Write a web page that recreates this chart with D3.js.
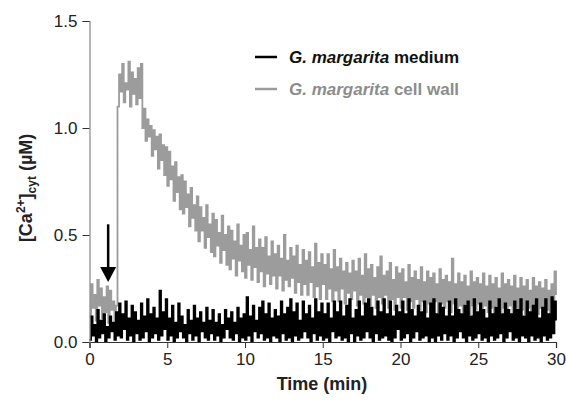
<!DOCTYPE html>
<html>
<head>
<meta charset="utf-8">
<script src="https://cdn.jsdelivr.net/npm/d3@7"></script>
<style>
body { margin: 0; background: #fff; }
svg { font-family: "Liberation Sans", Arial, sans-serif; }
</style>
</head>
<body>
<svg></svg>
<script>
const width = 566;
const height = 406;

// time step of both traces, in minutes
const timeStep = 0.1;

// cell wall trace, one row per minute
const cellWall = [
	0.12,0.27,0.16,0.22,0.10,0.29,0.17,0.25,0.11,0.21,
	0.14,0.26,0.09,0.24,0.15,0.19,0.08,0.17,1.10,1.25,
	1.17,1.30,1.12,1.21,1.18,1.31,1.10,1.26,1.16,1.23,
	1.11,1.28,1.14,1.30,1.00,1.09,0.94,1.04,0.96,1.01,
	0.87,0.99,0.90,0.96,0.81,0.97,0.85,0.92,0.78,0.91,
	0.73,0.89,0.76,0.82,0.66,0.84,0.70,0.77,0.62,0.78,
	0.60,0.75,0.63,0.69,0.54,0.72,0.58,0.64,0.52,0.68,
	0.47,0.63,0.52,0.58,0.44,0.64,0.49,0.55,0.42,0.60,
	0.40,0.57,0.45,0.51,0.37,0.59,0.43,0.50,0.36,0.54,
	0.34,0.52,0.39,0.47,0.31,0.55,0.38,0.45,0.33,0.50,
	0.30,0.51,0.36,0.43,0.29,0.54,0.35,0.44,0.28,0.48,
	0.33,0.44,0.26,0.49,0.32,0.40,0.27,0.47,0.31,0.41,
	0.25,0.45,0.31,0.39,0.24,0.50,0.29,0.38,0.26,0.44,
	0.30,0.40,0.23,0.45,0.28,0.36,0.22,0.43,0.27,0.38,
	0.22,0.42,0.28,0.35,0.21,0.46,0.26,0.37,0.20,0.41,
	0.27,0.36,0.20,0.41,0.25,0.34,0.19,0.43,0.24,0.35,
	0.19,0.39,0.25,0.33,0.18,0.37,0.23,0.32,0.20,0.38,
	0.24,0.33,0.17,0.39,0.22,0.31,0.18,0.41,0.21,0.34,
	0.17,0.36,0.22,0.30,0.16,0.35,0.21,0.40,0.18,0.31,
	0.22,0.33,0.16,0.37,0.20,0.29,0.15,0.35,0.21,0.32,
	0.16,0.34,0.21,0.28,0.15,0.36,0.19,0.30,0.16,0.33,
	0.20,0.29,0.15,0.35,0.19,0.28,0.14,0.33,0.18,0.30,
	0.15,0.32,0.19,0.27,0.14,0.34,0.18,0.29,0.16,0.31,
	0.19,0.28,0.14,0.39,0.18,0.27,0.15,0.32,0.17,0.28,
	0.14,0.31,0.18,0.26,0.13,0.33,0.17,0.28,0.15,0.30,
	0.18,0.27,0.13,0.32,0.17,0.26,0.14,0.31,0.16,0.27,
	0.13,0.30,0.17,0.25,0.14,0.32,0.16,0.27,0.13,0.29,
	0.17,0.26,0.13,0.31,0.16,0.25,0.14,0.30,0.15,0.26,
	0.13,0.29,0.16,0.24,0.12,0.30,0.15,0.26,0.13,0.28,
	0.16,0.25,0.12,0.29,0.15,0.24,0.13,0.27,0.14,0.33,
	0.22
];

// medium trace, one row per minute
const medium = [
	0.01,0.12,0.03,0.08,0.00,0.15,0.02,0.10,0.04,0.13,
	0.00,0.07,0.02,0.12,0.05,0.09,0.01,0.14,0.03,0.18,
	0.02,0.13,0.06,0.19,0.01,0.11,0.03,0.17,0.00,0.14,
	0.04,0.10,0.01,0.18,0.02,0.12,0.05,0.20,0.00,0.13,
	0.02,0.16,0.04,0.11,0.01,0.24,0.03,0.14,0.06,0.20,
	0.01,0.11,0.03,0.17,0.00,0.09,0.02,0.18,0.05,0.12,
	0.02,0.08,0.00,0.15,0.04,0.10,0.01,0.17,0.03,0.11,
	0.00,0.14,0.05,0.09,0.02,0.16,0.01,0.10,0.04,0.15,
	0.01,0.09,0.03,0.13,0.00,0.08,0.02,0.15,0.06,0.11,
	0.02,0.14,0.01,0.09,0.04,0.16,0.00,0.11,0.02,0.13,
	0.01,0.21,0.03,0.12,0.00,0.17,0.05,0.10,0.02,0.16,
	0.04,0.19,0.01,0.13,0.02,0.18,0.00,0.11,0.03,0.15,
	0.02,0.12,0.00,0.19,0.04,0.13,0.01,0.16,0.02,0.20,
	0.00,0.14,0.03,0.18,0.01,0.10,0.02,0.19,0.05,0.13,
	0.02,0.17,0.00,0.11,0.04,0.20,0.01,0.14,0.03,0.18,
	0.01,0.13,0.02,0.18,0.00,0.11,0.05,0.19,0.02,0.14,
	0.03,0.19,0.01,0.12,0.02,0.17,0.00,0.20,0.04,0.11,
	0.00,0.15,0.03,0.19,0.01,0.12,0.02,0.18,0.05,0.20,
	0.02,0.16,0.00,0.12,0.04,0.19,0.01,0.14,0.02,0.20,
	0.03,0.13,0.01,0.19,0.00,0.12,0.02,0.17,0.06,0.14,
	0.01,0.19,0.02,0.13,0.04,0.20,0.00,0.15,0.02,0.12,
	0.05,0.17,0.01,0.14,0.02,0.19,0.03,0.11,0.00,0.18,
	0.02,0.20,0.00,0.13,0.03,0.18,0.01,0.16,0.04,0.12,
	0.01,0.19,0.03,0.12,0.00,0.20,0.02,0.15,0.05,0.13,
	0.02,0.17,0.00,0.19,0.03,0.12,0.01,0.20,0.02,0.14,
	0.04,0.18,0.01,0.15,0.02,0.11,0.00,0.19,0.03,0.13,
	0.01,0.16,0.02,0.20,0.04,0.13,0.00,0.18,0.02,0.15,
	0.05,0.13,0.01,0.19,0.02,0.15,0.00,0.20,0.03,0.12,
	0.02,0.19,0.00,0.14,0.03,0.17,0.01,0.20,0.02,0.11,
	0.00,0.16,0.03,0.20,0.01,0.13,0.02,0.21,0.04,0.19,
	0.10
];

const xTicks = [0, 5, 10, 15, 20, 25, 30];
const yTicks = [0, 0.5, 1.0, 1.5];
const legendLabels = ['medium', 'cell wall'];

// stimulus arrow: time and the value span it covers
const arrowTime = 1.2;
const arrowSpan = [0.55, 0.28];

const svg = d3.select('svg')
	.attr('width', width)
	.attr('height', height);

const x = d3.scaleLinear().domain([0, 30]).range([89.5, 556]);
const y = d3.scaleLinear().domain([0, 1.5]).range([342, 21]);

const line = d3.line()
	.x((d, i) => x(i * timeStep))
	.y(d => y(d))
	.curve(d3.curveStepAfter);

svg.append('path')
	.datum(cellWall)
	.attr('fill', 'none')
	.attr('stroke', '#9c9c9c')
	.attr('stroke-width', 1.8)
	.attr('d', line);

svg.append('path')
	.datum(medium)
	.attr('fill', 'none')
	.attr('stroke', '#000')
	.attr('stroke-width', 1.8)
	.attr('d', line);

// axes
const xAxis = svg.append('g')
	.attr('transform', `translate(0,${y(0)})`)
	.call(d3.axisBottom(x).tickValues(xTicks).tickSize(6).tickPadding(5).tickFormat(d3.format('d')));
xAxis.select('.domain').attr('stroke', '#333').attr('stroke-width', 1.2);
xAxis.selectAll('.tick line').attr('stroke', '#333');
xAxis.selectAll('text').attr('font-size', 17).attr('fill', '#222').attr('font-family', null);

const yAxis = svg.append('g')
	.attr('transform', `translate(${x(0)},0)`)
	.call(d3.axisLeft(y).tickValues(yTicks).tickSize(7).tickPadding(5).tickFormat(d3.format('.1f')));
yAxis.select('.domain').attr('stroke', '#888').attr('stroke-width', 1.2);
yAxis.selectAll('.tick line').attr('stroke', '#333');
yAxis.selectAll('text').attr('font-size', 17).attr('fill', '#222').attr('font-family', null);

svg.append('text')
	.attr('x', 322)
	.attr('y', 390)
	.attr('text-anchor', 'middle')
	.attr('font-size', 18)
	.attr('font-weight', 'bold')
	.attr('fill', '#222')
	.text('Time (min)');

const yTitle = svg.append('text')
	.attr('transform', `translate(32,${y(0.72)}) rotate(-90)`)
	.attr('text-anchor', 'middle')
	.attr('font-size', 18)
	.attr('font-weight', 'bold')
	.attr('fill', '#222');
yTitle.append('tspan').text('[Ca');
yTitle.append('tspan').attr('font-size', 12).attr('dy', -7).text('2+');
yTitle.append('tspan').attr('dy', 7).text(']');
yTitle.append('tspan').attr('font-size', 12).attr('dy', 4).text('cyt');
yTitle.append('tspan').attr('dy', -4).text(' (µM)');

// arrow
svg.append('line')
	.attr('x1', x(arrowTime))
	.attr('x2', x(arrowTime))
	.attr('y1', y(arrowSpan[0]))
	.attr('y2', y(arrowSpan[1]) - 10)
	.attr('stroke', '#000')
	.attr('stroke-width', 2.5);
svg.append('path')
	.attr('d', `M${x(arrowTime) - 8},${y(arrowSpan[1]) - 15}L${x(arrowTime) + 8},${y(arrowSpan[1]) - 15}L${x(arrowTime)},${y(arrowSpan[1])}Z`)
	.attr('fill', '#000');

// legend
const legendColors = ['#000', '#9c9c9c'];
const legend = svg.selectAll('.legend')
	.data(legendLabels)
	.enter()
	.append('g')
	.attr('class', 'legend')
	.attr('transform', (d, i) => `translate(255,${57 + i * 32})`);
legend.append('line')
	.attr('x1', 0)
	.attr('x2', 22)
	.attr('stroke', (d, i) => legendColors[i])
	.attr('stroke-width', 2.5);
const legendText = legend.append('text')
	.attr('x', 34)
	.attr('dy', '0.35em')
	.attr('font-size', 17)
	.attr('font-weight', 'bold')
	.attr('fill', (d, i) => i === 0 ? '#111' : '#8c8c8c');
legendText.append('tspan').attr('font-style', 'italic').text('G. margarita');
legendText.append('tspan').text(d => ' ' + d);
</script>
</body>
</html>
